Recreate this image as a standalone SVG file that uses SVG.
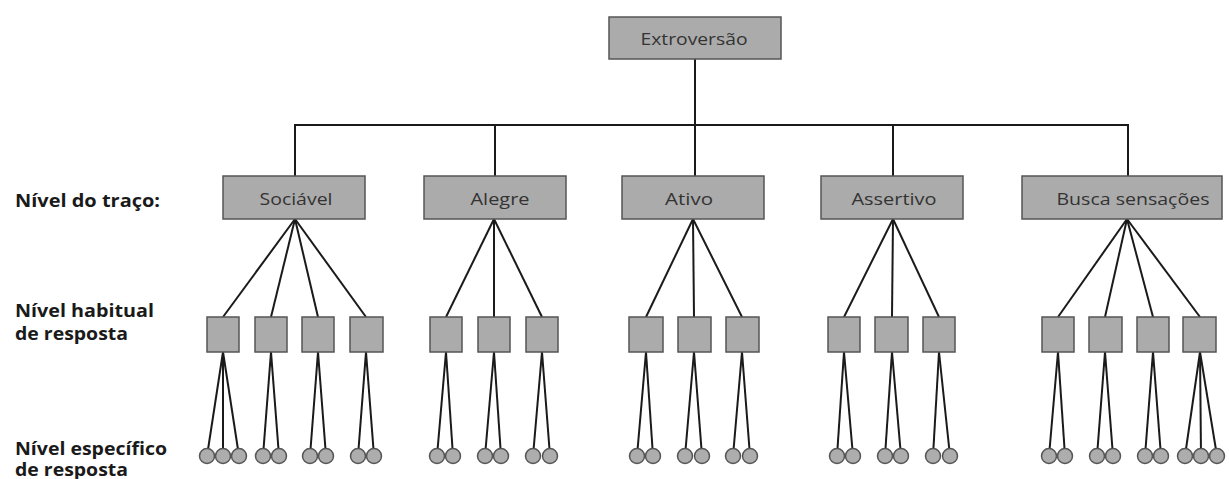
<svg xmlns="http://www.w3.org/2000/svg" width="1229" height="479" viewBox="0 0 1229 479">
<style>
.box{fill:#ababab;stroke:#555;stroke-width:1.5}
.hb{fill:#ababab;stroke:#555;stroke-width:1.5}
.leaf{fill:#adadad;stroke:#555;stroke-width:1.5}
.t{font-family:"Open Sans","Liberation Sans",sans-serif;font-size:17px;fill:#333;text-anchor:middle}
.lab{font-family:"Open Sans","Liberation Sans",sans-serif;font-size:17px;font-weight:bold;fill:#1a1a1a}
#connectors line,#connectors polyline{stroke:#1a1a1a;stroke-width:2;fill:none}
</style>
<rect width="1229" height="479" fill="#fff"/>
<g id="labels">
<text class="lab" x="15" y="207" textLength="145" lengthAdjust="spacingAndGlyphs">Nível do traço:</text>
<text class="lab" x="15" y="317" textLength="139" lengthAdjust="spacingAndGlyphs">Nível habitual</text>
<text class="lab" x="15" y="340" textLength="113" lengthAdjust="spacingAndGlyphs">de resposta</text>
<text class="lab" x="15" y="455" textLength="152" lengthAdjust="spacingAndGlyphs">Nível específico</text>
<text class="lab" x="15" y="476" textLength="113" lengthAdjust="spacingAndGlyphs">de resposta</text>
</g>
<g id="connectors">
<line x1="695" y1="59" x2="695" y2="125"/>
<polyline points="295,176 295,125 1128,125 1128,176"/>
<line x1="495" y1="125" x2="495" y2="176"/>
<line x1="695" y1="125" x2="695" y2="176"/>
<line x1="893" y1="125" x2="893" y2="176"/>
<line x1="295" y1="219" x2="223" y2="317"/><line x1="295" y1="219" x2="271" y2="317"/><line x1="295" y1="219" x2="318" y2="317"/><line x1="295" y1="219" x2="366" y2="317"/>
<line x1="494" y1="219" x2="446" y2="317"/><line x1="494" y1="219" x2="494" y2="317"/><line x1="494" y1="219" x2="542" y2="317"/>
<line x1="693" y1="219" x2="646" y2="317"/><line x1="693" y1="219" x2="694" y2="317"/><line x1="693" y1="219" x2="742" y2="317"/>
<line x1="893" y1="219" x2="844" y2="317"/><line x1="893" y1="219" x2="892" y2="317"/><line x1="893" y1="219" x2="939" y2="317"/>
<line x1="1127" y1="219" x2="1058" y2="317"/><line x1="1127" y1="219" x2="1105" y2="317"/><line x1="1127" y1="219" x2="1153" y2="317"/><line x1="1127" y1="219" x2="1200" y2="317"/>
<line x1="223" y1="352" x2="207" y2="456"/><line x1="223" y1="352" x2="223" y2="456"/><line x1="223" y1="352" x2="239" y2="456"/>
<line x1="271" y1="352" x2="263" y2="456"/><line x1="271" y1="352" x2="279" y2="456"/>
<line x1="318" y1="352" x2="310" y2="456"/><line x1="318" y1="352" x2="326" y2="456"/>
<line x1="366" y1="352" x2="358" y2="456"/><line x1="366" y1="352" x2="374" y2="456"/>
<line x1="446" y1="352" x2="437" y2="456"/><line x1="446" y1="352" x2="453" y2="456"/>
<line x1="494" y1="352" x2="485" y2="456"/><line x1="494" y1="352" x2="501" y2="456"/>
<line x1="542" y1="352" x2="533" y2="456"/><line x1="542" y1="352" x2="550" y2="456"/>
<line x1="646" y1="352" x2="637" y2="456"/><line x1="646" y1="352" x2="653" y2="456"/>
<line x1="694" y1="352" x2="685" y2="456"/><line x1="694" y1="352" x2="702" y2="456"/>
<line x1="742" y1="352" x2="733" y2="456"/><line x1="742" y1="352" x2="750" y2="456"/>
<line x1="844" y1="352" x2="837" y2="456"/><line x1="844" y1="352" x2="853" y2="456"/>
<line x1="892" y1="352" x2="885" y2="456"/><line x1="892" y1="352" x2="901" y2="456"/>
<line x1="939" y1="352" x2="933" y2="456"/><line x1="939" y1="352" x2="950" y2="456"/>
<line x1="1058" y1="352" x2="1049" y2="456"/><line x1="1058" y1="352" x2="1065" y2="456"/>
<line x1="1105" y1="352" x2="1097" y2="456"/><line x1="1105" y1="352" x2="1113" y2="456"/>
<line x1="1153" y1="352" x2="1145" y2="456"/><line x1="1153" y1="352" x2="1161" y2="456"/>
<line x1="1200" y1="352" x2="1185" y2="456"/><line x1="1200" y1="352" x2="1201" y2="456"/><line x1="1200" y1="352" x2="1217" y2="456"/>
</g>
<g id="extroversao"><rect class="box" x="609" y="17" width="172" height="42"/><text class="t" x="694" y="45" textLength="107" lengthAdjust="spacingAndGlyphs">Extroversão</text></g>
<g id="sociavel"><rect class="box" x="223" y="176" width="142" height="43"/><text class="t" x="296" y="205" textLength="73" lengthAdjust="spacingAndGlyphs">Sociável</text></g>
<g id="alegre"><rect class="box" x="424" y="176" width="142" height="43"/><text class="t" x="500" y="205" textLength="59" lengthAdjust="spacingAndGlyphs">Alegre</text></g>
<g id="ativo"><rect class="box" x="622" y="176" width="142" height="43"/><text class="t" x="689" y="205" textLength="48" lengthAdjust="spacingAndGlyphs">Ativo</text></g>
<g id="assertivo"><rect class="box" x="821" y="176" width="142" height="43"/><text class="t" x="894" y="205" textLength="85" lengthAdjust="spacingAndGlyphs">Assertivo</text></g>
<g id="busca"><rect class="box" x="1022" y="176" width="200" height="43"/><text class="t" x="1133" y="205" textLength="153" lengthAdjust="spacingAndGlyphs">Busca sensações</text></g>
<g id="habituais">
<rect class="hb" x="207" y="317" width="32" height="35"/><rect class="hb" x="255" y="317" width="32" height="35"/><rect class="hb" x="302" y="317" width="32" height="35"/><rect class="hb" x="350" y="317" width="33" height="35"/>
<rect class="hb" x="430" y="317" width="32" height="35"/><rect class="hb" x="478" y="317" width="32" height="35"/><rect class="hb" x="526" y="317" width="32" height="35"/>
<rect class="hb" x="629" y="317" width="34" height="35"/><rect class="hb" x="678" y="317" width="33" height="35"/><rect class="hb" x="726" y="317" width="33" height="35"/>
<rect class="hb" x="828" y="317" width="32" height="35"/><rect class="hb" x="875" y="317" width="33" height="35"/><rect class="hb" x="923" y="317" width="32" height="35"/>
<rect class="hb" x="1042" y="317" width="32" height="35"/><rect class="hb" x="1089" y="317" width="33" height="35"/><rect class="hb" x="1137" y="317" width="32" height="35"/><rect class="hb" x="1183" y="317" width="33" height="35"/>
</g>
<g id="especificos">
<circle class="leaf" cx="207" cy="456" r="7.5"/><circle class="leaf" cx="223" cy="456" r="7.5"/><circle class="leaf" cx="239" cy="456" r="7.5"/>
<circle class="leaf" cx="263" cy="456" r="7.5"/><circle class="leaf" cx="279" cy="456" r="7.5"/>
<circle class="leaf" cx="310" cy="456" r="7.5"/><circle class="leaf" cx="326" cy="456" r="7.5"/>
<circle class="leaf" cx="358" cy="456" r="7.5"/><circle class="leaf" cx="374" cy="456" r="7.5"/>
<circle class="leaf" cx="437" cy="456" r="7.5"/><circle class="leaf" cx="453" cy="456" r="7.5"/>
<circle class="leaf" cx="485" cy="456" r="7.5"/><circle class="leaf" cx="501" cy="456" r="7.5"/>
<circle class="leaf" cx="533" cy="456" r="7.5"/><circle class="leaf" cx="550" cy="456" r="7.5"/>
<circle class="leaf" cx="637" cy="456" r="7.5"/><circle class="leaf" cx="653" cy="456" r="7.5"/>
<circle class="leaf" cx="685" cy="456" r="7.5"/><circle class="leaf" cx="702" cy="456" r="7.5"/>
<circle class="leaf" cx="733" cy="456" r="7.5"/><circle class="leaf" cx="750" cy="456" r="7.5"/>
<circle class="leaf" cx="837" cy="456" r="7.5"/><circle class="leaf" cx="853" cy="456" r="7.5"/>
<circle class="leaf" cx="885" cy="456" r="7.5"/><circle class="leaf" cx="901" cy="456" r="7.5"/>
<circle class="leaf" cx="933" cy="456" r="7.5"/><circle class="leaf" cx="950" cy="456" r="7.5"/>
<circle class="leaf" cx="1049" cy="456" r="7.5"/><circle class="leaf" cx="1065" cy="456" r="7.5"/>
<circle class="leaf" cx="1097" cy="456" r="7.5"/><circle class="leaf" cx="1113" cy="456" r="7.5"/>
<circle class="leaf" cx="1145" cy="456" r="7.5"/><circle class="leaf" cx="1161" cy="456" r="7.5"/>
<circle class="leaf" cx="1185" cy="456" r="7.5"/><circle class="leaf" cx="1201" cy="456" r="7.5"/><circle class="leaf" cx="1217" cy="456" r="7.5"/>
</g>
</svg>
